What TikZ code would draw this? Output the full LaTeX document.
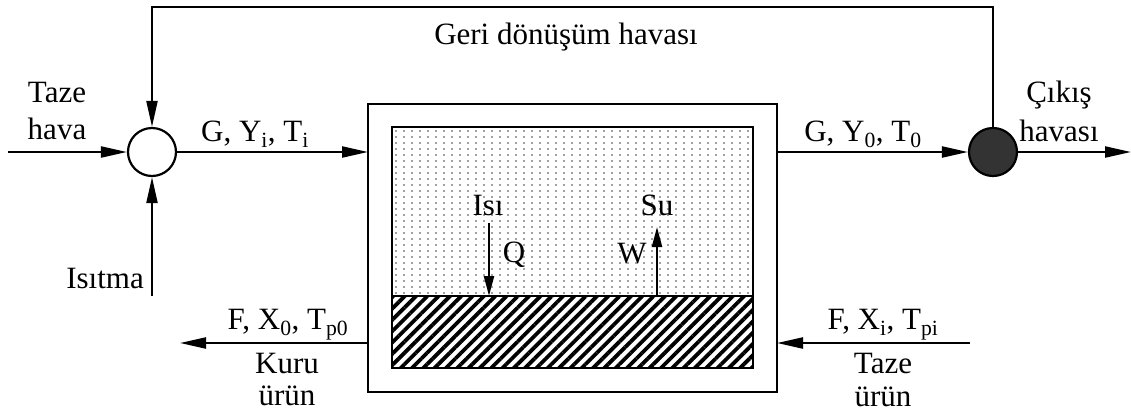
\documentclass[tikz,border=0pt]{standalone}
\usepackage{fontspec}
\setmainfont{Liberation Serif}
\usetikzlibrary{arrows.meta,patterns.meta}

\tikzset{
  flow/.style={line width=2.2pt, -{Triangle[length=26pt,width=11pt]}},
  mixer/.style={circle, draw, line width=2.2pt, minimum size=48pt, inner sep=0pt},
  lbl/.style={font=\fontsize{31}{34}\selectfont, inner sep=1pt}
}

\begin{document}
\begin{tikzpicture}[x=1pt, y=-1pt]
    \useasboundingbox (0,0) rectangle (1131,418);

    % Dryer box
    \foreach \i in {0,...,44}
      \foreach \j in {0,...,27}
        \fill[black!75] (396+\i*8, 131+\j*6) circle (0.85pt);
    \pattern[pattern={Lines[angle=45, distance=8pt, line width=3.8pt]}] (392,296) rectangle (753,368);
    \draw[line width=2.6pt] (392,127) rectangle (753,368);
    \draw[line width=2.2pt] (392,296) -- (753,296);
    \draw[line width=2.6pt] (368,104) rectangle (777,392);
    \coordinate (boxW) at (368,152);
    \coordinate (boxE) at (777,152);
    \coordinate (boxSW) at (368,343);
    \coordinate (boxSE) at (777,343);

    % Mixing and splitting points
    \node[mixer, fill=white] (mix) at (152,152) {};
    \node[mixer, fill=black!80] (split) at (993,152) {};

    % Air streams
    \coordinate (airin) at (8,152);
    \coordinate (heat) at (152,296);
    \coordinate (airout) at (1131,152);
    \draw[flow] (airin) -- (mix.west);
    \draw[flow] (heat) -- (mix.south);
    \draw[flow] (mix.east) -- (boxW);
    \draw[flow] (boxE) -- (split.west);
    \draw[flow] (split.east) -- (airout);

    % Recycle
    \draw[flow] (split.north) |- (570,7) -| (mix.north);

    % Product streams
    \coordinate (prodout) at (180,343);
    \coordinate (prodin) at (970,343);
    \draw[flow] (boxSW) -- (prodout);
    \draw[flow] (prodin) -- (boxSE);

    % Heat and water
    \coordinate (q1) at (489,223);
    \coordinate (q2) at (489,296);
    \coordinate (w1) at (657,296);
    \coordinate (w2) at (657,227);
    \draw[line width=2.2pt, -{Triangle[length=20pt,width=10pt]}] (q1) -- (q2);
    \draw[line width=2.2pt, -{Triangle[length=20pt,width=10pt]}] (w1) -- (w2);

    % Labels
    \node[lbl] (geri) at (566,37) {Geri dönüşüm havası};
    \node[lbl] (taze1) at (57,92) {Taze};
    \node[lbl] (taze2) at (57,129) {hava};
    \node[lbl, anchor=east] (isitma) at (145,278) {Isıtma};
    \node[lbl] (gin) at (255,134) {G, Y\textsubscript{i}, T\textsubscript{i}};
    \node[lbl] (gout) at (863,134) {G, Y\textsubscript{0}, T\textsubscript{0}};
    \node[lbl] (cik1) at (1059,95) {Çıkış};
    \node[lbl] (cik2) at (1059,131) {havası};
    \node[lbl] (isi) at (488,205) {Isı};
    \node[lbl] (qq) at (514,255) {Q};
    \node[lbl] (su) at (657,205) {Su};
    \node[lbl] (ww) at (632,254) {W};
    \node[lbl] (fout) at (288,325) {F, X\textsubscript{0}, T\textsubscript{p0}};
    \node[lbl] (kuru1) at (287,363) {Kuru};
    \node[lbl] (kuru2) at (287,396) {ürün};
    \node[lbl] (fin) at (883,325) {F, X\textsubscript{i}, T\textsubscript{pi}};
    \node[lbl] (tu1) at (883,363) {Taze};
    \node[lbl] (tu2) at (883,397) {ürün};
\end{tikzpicture}
\end{document}
